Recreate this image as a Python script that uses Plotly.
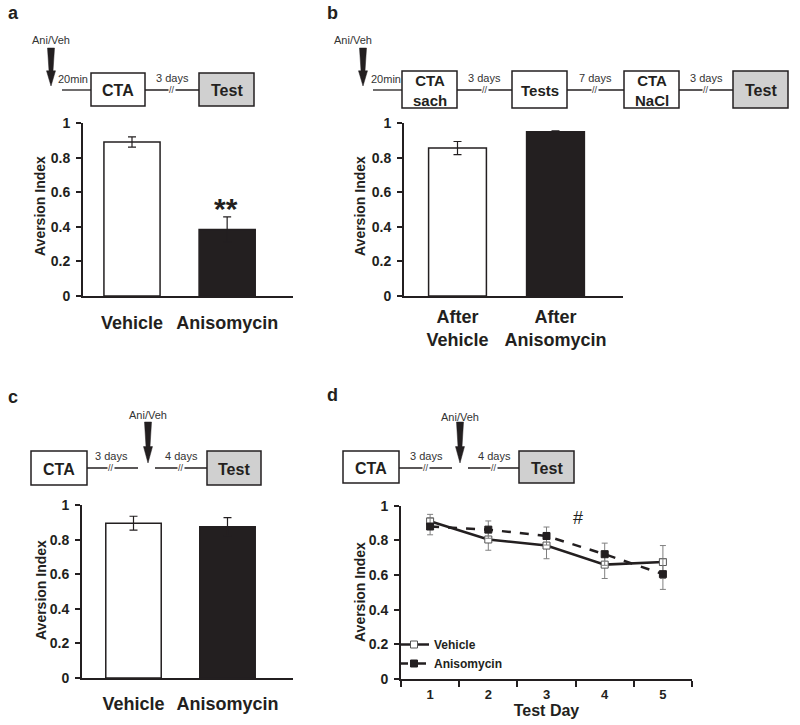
import plotly.graph_objects as go

# ---------------- data ----------------
cats_a = ["Vehicle", "Anisomycin"]
vals_a = [0.89, 0.385]
err_a = [0.03, 0.072]

cats_b = ["After<br>Vehicle", "After<br>Anisomycin"]
vals_b = [0.855, 0.95]
err_b = [0.038, 0.005]

cats_c = ["Vehicle", "Anisomycin"]
vals_c = [0.895, 0.875]
err_c = [0.04, 0.052]

days_d = ["1", "2", "3", "4", "5"]
veh_d = [0.91, 0.805, 0.77, 0.66, 0.675]
veh_err_d = [0.04, 0.062, 0.076, 0.08, 0.095]
ani_d = [0.88, 0.862, 0.825, 0.72, 0.605]
ani_err_d = [0.048, 0.05, 0.052, 0.064, 0.088]

ytick_vals = [0, 0.2, 0.4, 0.6, 0.8, 1]
ytick_text = ["0", "0.2", "0.4", "0.6", "0.8", "1"]

W, H = 800, 725
FONT = "Liberation Sans, Arial, sans-serif"
BLACK = "#231f20"
GRAY_FILL = "#d0d0d0"


def X(px):
    return px / W


def Y(py):
    return 1 - py / H


fig = go.Figure()

bar_colors = ["white", BLACK]


def add_bars(cats, vals, errs, xa, ya):
    fig.add_trace(go.Bar(
        x=cats, y=vals, xaxis=xa, yaxis=ya, width=0.59,
        marker=dict(color=bar_colors, line=dict(color=BLACK, width=1.5)),
        error_y=dict(type="data", array=errs, color=BLACK, thickness=1.2, width=4),
        showlegend=False,
    ))


add_bars(cats_a, vals_a, err_a, "x", "y")
add_bars(cats_b, vals_b, err_b, "x2", "y2")
add_bars(cats_c, vals_c, err_c, "x3", "y3")

# panel d lines
fig.add_trace(go.Scatter(
    x=days_d, y=veh_d, xaxis="x4", yaxis="y4", name="Vehicle",
    mode="lines+markers",
    line=dict(color=BLACK, width=2.5),
    marker=dict(symbol="square", size=7, color="white", line=dict(color="#555555", width=1)),
    error_y=dict(type="data", array=veh_err_d, color="#808080", thickness=1, width=3),
))
fig.add_trace(go.Scatter(
    x=days_d, y=ani_d, xaxis="x4", yaxis="y4", name="Anisomycin",
    mode="lines+markers",
    line=dict(color=BLACK, width=2.5, dash="dash"),
    marker=dict(symbol="square", size=7, color=BLACK, line=dict(color=BLACK, width=1)),
    error_y=dict(type="data", array=ani_err_d, color="#808080", thickness=1, width=3),
))

yaxis_common = dict(
    range=[0, 1], tickvals=ytick_vals, ticktext=ytick_text,
    ticks="outside", ticklen=5, tickwidth=1.5, tickcolor=BLACK,
    showline=True, linewidth=2, linecolor=BLACK,
    showgrid=False, zeroline=False, automargin=False,
    tickfont=dict(family=FONT, size=14, color=BLACK, weight="bold"),
    ticklabelstandoff=3,
)
xcat_common = dict(
    type="category", showline=True, linewidth=2, linecolor=BLACK,
    ticks="", showgrid=False, zeroline=False, automargin=False,
    tickfont=dict(family=FONT, size=18, color=BLACK, weight="bold"),
)

fig.update_layout(
    width=W, height=H, margin=dict(l=0, r=0, t=0, b=0, autoexpand=False),
    paper_bgcolor="white", plot_bgcolor="rgba(0,0,0,0)",
    font=dict(family=FONT, color=BLACK),
    xaxis=dict(domain=[X(83), X(293)], anchor="y", range=[-0.515, 1.692],
               ticklabelstandoff=9, **xcat_common),
    yaxis=dict(domain=[Y(296), Y(123)], anchor="x", **yaxis_common),
    xaxis2=dict(domain=[X(404), X(623)], anchor="y2", range=[-0.546, 1.689],
                ticklabelstandoff=3, **xcat_common),
    yaxis2=dict(domain=[Y(296), Y(123)], anchor="x2", **yaxis_common),
    xaxis3=dict(domain=[X(82), X(293)], anchor="y3", range=[-0.548, 1.697],
                ticklabelstandoff=8, **xcat_common),
    yaxis3=dict(domain=[Y(678), Y(505)], anchor="x3", **yaxis_common),
    xaxis4=dict(domain=[X(401), X(692)], anchor="y4", type="category",
                range=[-0.5, 4.5], tickson="boundaries", ticks="outside",
                ticklen=6, tickwidth=1.5, tickcolor=BLACK,
                showline=True, linewidth=2, linecolor=BLACK,
                showgrid=False, zeroline=False, automargin=False,
                tickfont=dict(family=FONT, size=13, color=BLACK, weight="bold"),
                ticklabelstandoff=2,
                title=dict(text="Test Day", standoff=0,
                           font=dict(family=FONT, size=16, color=BLACK, weight="bold"))),
    yaxis4=dict(domain=[Y(679), Y(505.7)], anchor="x4", **yaxis_common),
    legend=dict(x=X(394), y=Y(630), xanchor="left", yanchor="top",
                bgcolor="rgba(0,0,0,0)", itemwidth=30, tracegroupgap=0,
                font=dict(family=FONT, size=12, color=BLACK, weight="bold")),
    showlegend=True,
)

shapes = []
annots = []


def text(px, py, s, size=11, bold=False, color="#333333", angle=0, bg=None, xanchor="center"):
    d = dict(x=X(px), y=Y(py), xref="paper", yref="paper", text=s, showarrow=False,
             xanchor=xanchor, yanchor="middle", textangle=angle,
             font=dict(family=FONT, size=size, color=color, weight="bold" if bold else "normal"))
    if bg:
        d["bgcolor"] = bg
        d["borderpad"] = 0
    annots.append(d)


def hline(x0, x1, py):
    shapes.append(dict(type="line", xref="paper", yref="paper", x0=X(x0), x1=X(x1),
                       y0=Y(py), y1=Y(py), line=dict(color=BLACK, width=1.3)))


def box(x0, y0, x1, y1, label, fill="white", size=16):
    shapes.append(dict(type="rect", xref="paper", yref="paper", x0=X(x0), x1=X(x1),
                       y0=Y(y1), y1=Y(y0), line=dict(color=BLACK, width=1.5), fillcolor=fill))
    text((x0 + x1) / 2, (y0 + y1) / 2 + 1, label, size=size, bold=True, color=BLACK)


def arrow(px, top, bot):
    h = bot - top
    mid = top + 0.6 * h
    pts = [(px - 3.5, top), (px + 3.5, top), (px + 2, mid), (px + 4.5, mid), (px, bot),
           (px - 4.5, mid), (px - 2, mid)]
    path = "M " + " L ".join(f"{X(a)},{Y(b)}" for a, b in pts) + " Z"
    shapes.append(dict(type="path", xref="paper", yref="paper", path=path,
                       fillcolor=BLACK, line=dict(color=BLACK, width=0.5)))


def gap(px, py, label):
    text(px, py - 12, label, size=11)
    text(px, py, "//", size=9, bg="white")


# panel a timeline
text(13, 13, "a", size=18, bold=True, color=BLACK)
text(51, 40, "Ani/Veh", size=11)
arrow(51, 48, 86)
hline(62, 91, 90)
text(73, 79, "20min", size=11)
hline(145, 199, 90)
gap(172, 90, "3 days")
box(91, 73, 145, 106, "CTA")
box(199, 73, 254, 106, "Test", fill=GRAY_FILL)

# panel b timeline
text(332, 13, "b", size=18, bold=True, color=BLACK)
text(353, 40, "Ani/Veh", size=11)
arrow(363, 48, 86)
hline(373, 402, 90)
text(386, 79, "20min", size=11)
hline(457, 512, 90)
gap(485, 90, "3 days")
hline(567, 624, 90)
gap(595, 90, "7 days")
hline(679, 733, 90)
gap(706, 90, "3 days")
box(402, 71, 457, 108, "CTA<br>sach", size=15)
box(512, 71, 567, 108, "Tests", size=15)
box(624, 71, 679, 108, "CTA<br>NaCl", size=15)
box(733, 71, 788, 108, "Test", fill=GRAY_FILL)

# panel c timeline
text(13, 397, "c", size=18, bold=True, color=BLACK)
text(148, 415, "Ani/Veh", size=11)
arrow(148, 422, 463)
hline(87, 138, 468)
gap(111, 468, "3 days")
hline(155, 207, 468)
gap(181, 468, "4 days")
box(31, 451, 87, 485, "CTA")
box(207, 451, 261, 485, "Test", fill=GRAY_FILL)

# panel d timeline
text(332, 395, "d", size=18, bold=True, color=BLACK)
text(460, 417, "Ani/Veh", size=11)
arrow(460, 422, 463)
hline(399, 452, 468)
gap(426, 468, "3 days")
hline(468, 519, 468)
gap(494, 468, "4 days")
box(343, 451, 399, 483, "CTA")
box(519, 451, 574, 483, "Test", fill=GRAY_FILL)

# axis titles
for px, py in [(40, 206), (360, 206), (41, 590), (360, 592)]:
    text(px, py, "Aversion Index", size=14, bold=True, color=BLACK, angle=-90)

# significance marks
text(226, 208, "**", size=30, bold=True, color=BLACK)
text(578, 518, "#", size=18, color=BLACK)

fig.update_layout(shapes=shapes, annotations=annots)
fig.write_html(
    "out.html",
    config={"displayModeBar": False},
    post_script="document.body.style.margin='0';document.body.style.overflow='hidden';",
)
